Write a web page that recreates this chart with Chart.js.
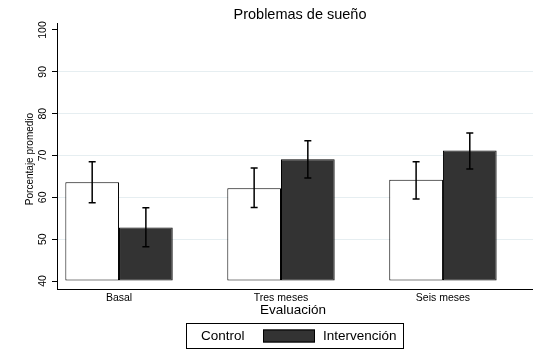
<!DOCTYPE html>
<html><head><meta charset="utf-8">
<script src="https://cdn.jsdelivr.net/npm/chart.js@4/dist/chart.umd.min.js"></script>
<style>html,body{margin:0;padding:0;background:#fff}canvas{display:block}</style>
</head><body>
<canvas id="c" width="533" height="360"></canvas>
<script>
const titleText = 'Problemas de sueño';
const xTitle = 'Evaluación';
const yTitle = 'Porcentaje promedio';
const categories = ['Basal', 'Tres meses', 'Seis meses'];
const seriesNames = ['Control', 'Intervención'];
const controlMean = [63.6, 62.2, 64.2];
const controlLow = [58.7, 57.6, 59.6];
const controlHigh = [68.5, 67.0, 68.5];
const intervMean = [52.8, 69.1, 71.2];
const intervLow = [48.2, 64.6, 66.8];
const intervHigh = [57.5, 73.5, 75.4];
const yTicks = [40, 50, 60, 70, 80, 90, 100];

const FONT = '"Liberation Sans", Arial, sans-serif';
const errs = [[controlLow, controlHigh], [intervLow, intervHigh]];

const overlay = {
  id: 'overlay',
  afterDatasetsDraw(chart) {
    const ctx = chart.ctx;
    const ys = chart.scales.y;
    ctx.save();
    ctx.strokeStyle = '#000';
    ctx.lineWidth = 1.5;
    chart.data.datasets.forEach((ds, di) => {
      const meta = chart.getDatasetMeta(di);
      meta.data.forEach((el, i) => {
        const x = el.x;
        const yl = ys.getPixelForValue(errs[di][0][i]);
        const yh = ys.getPixelForValue(errs[di][1][i]);
        ctx.beginPath();
        ctx.moveTo(x, yl); ctx.lineTo(x, yh);
        ctx.moveTo(x - 3.5, yl); ctx.lineTo(x + 3.5, yl);
        ctx.moveTo(x - 3.5, yh); ctx.lineTo(x + 3.5, yh);
        ctx.stroke();
      });
    });
    ctx.restore();
  },
  afterDraw(chart) {
    const ctx = chart.ctx;
    const ca = chart.chartArea;
    const ys = chart.scales.y;
    const cx = (ca.left + ca.right) / 2;
    ctx.save();
    ctx.fillStyle = '#000';
    ctx.font = '14.5px ' + FONT;
    ctx.textAlign = 'center'; ctx.textBaseline = 'middle';
    ctx.fillText(titleText, 300, 15);
    ctx.font = '10.5px ' + FONT;
    yTicks.forEach(v => {
      const py = ys.getPixelForValue(v);
      ctx.save();
      ctx.translate(43, py);
      ctx.rotate(-Math.PI / 2);
      ctx.fillText(String(v), 0, 0);
      ctx.restore();
    });
    ctx.save();
    ctx.translate(30, (ca.top + ca.bottom) / 2 + 3);
    ctx.rotate(-Math.PI / 2);
    ctx.font = '10px ' + FONT;
    ctx.fillText(yTitle, 0, 0);
    ctx.restore();
    ctx.font = '13.5px ' + FONT;
    ctx.fillText(xTitle, 293, 310);
    const bx = 186, by = 323.5, bw = 217, bh = 25;
    ctx.lineWidth = 1; ctx.strokeStyle = '#000';
    ctx.strokeRect(bx + 0.5, by, bw, bh);
    ctx.font = '13.5px ' + FONT;
    ctx.textAlign = 'left';
    ctx.fillText(seriesNames[0], bx + 15, by + 13);
    ctx.fillStyle = '#333333';
    ctx.fillRect(bx + 77, by + 6, 52, 13);
    ctx.strokeRect(bx + 77.5, by + 6.5, 51, 12);
    ctx.fillStyle = '#000';
    ctx.fillText(seriesNames[1], bx + 137, by + 13);
    ctx.restore();
  }
};

new Chart(document.getElementById('c'), {
  type: 'bar',
  data: {
    datasets: [
      { label: seriesNames[0], data: controlMean.map((v, i) => ({ x: i, y: v })), base: 40,
        backgroundColor: '#ffffff', borderColor: '#000', borderWidth: 1, borderSkipped: false },
      { label: seriesNames[1], data: intervMean.map((v, i) => ({ x: i, y: v })), base: 40,
        backgroundColor: '#333333', borderColor: '#000', borderWidth: 1, borderSkipped: false }
    ]
  },
  options: {
    responsive: false,
    animation: false,
    events: [],
    layout: { padding: { top: 23, right: 0, left: 0, bottom: 0 } },
    datasets: { bar: { categoryPercentage: 0.663, barPercentage: 1 } },
    plugins: { legend: { display: false }, title: { display: false }, tooltip: { enabled: false } },
    scales: {
      x: {
        type: 'linear',
        offset: false,
        min: -0.383, max: 2.556,
        afterBuildTicks: s => { s.ticks = categories.map((c, i) => ({ value: i })); },
        afterFit: s => { s.height = 71; },
        ticks: {
          callback: v => categories[v],
          font: { family: FONT, size: 10.5 }, color: '#000',
          padding: 3, maxRotation: 0, minRotation: 0, autoSkip: false
        },
        grid: { display: false, drawTicks: false },
        border: { display: true, color: '#000', width: 1 }
      },
      y: {
        type: 'linear',
        min: 38.09, max: 101.67,
        afterBuildTicks: s => { s.ticks = yTicks.map(v => ({ value: v })); },
        afterFit: s => { s.width = 57; },
        ticks: { display: false },
        grid: {
          color: c => (c.tick && (c.tick.value === 40 || c.tick.value === 100)) ? 'rgba(0,0,0,0)' : '#e6eef1',
          tickColor: '#000', tickLength: 5, lineWidth: 1
        },
        border: { display: true, color: '#000', width: 1 }
      }
    }
  },
  plugins: [overlay]
});
</script>
</body></html>
